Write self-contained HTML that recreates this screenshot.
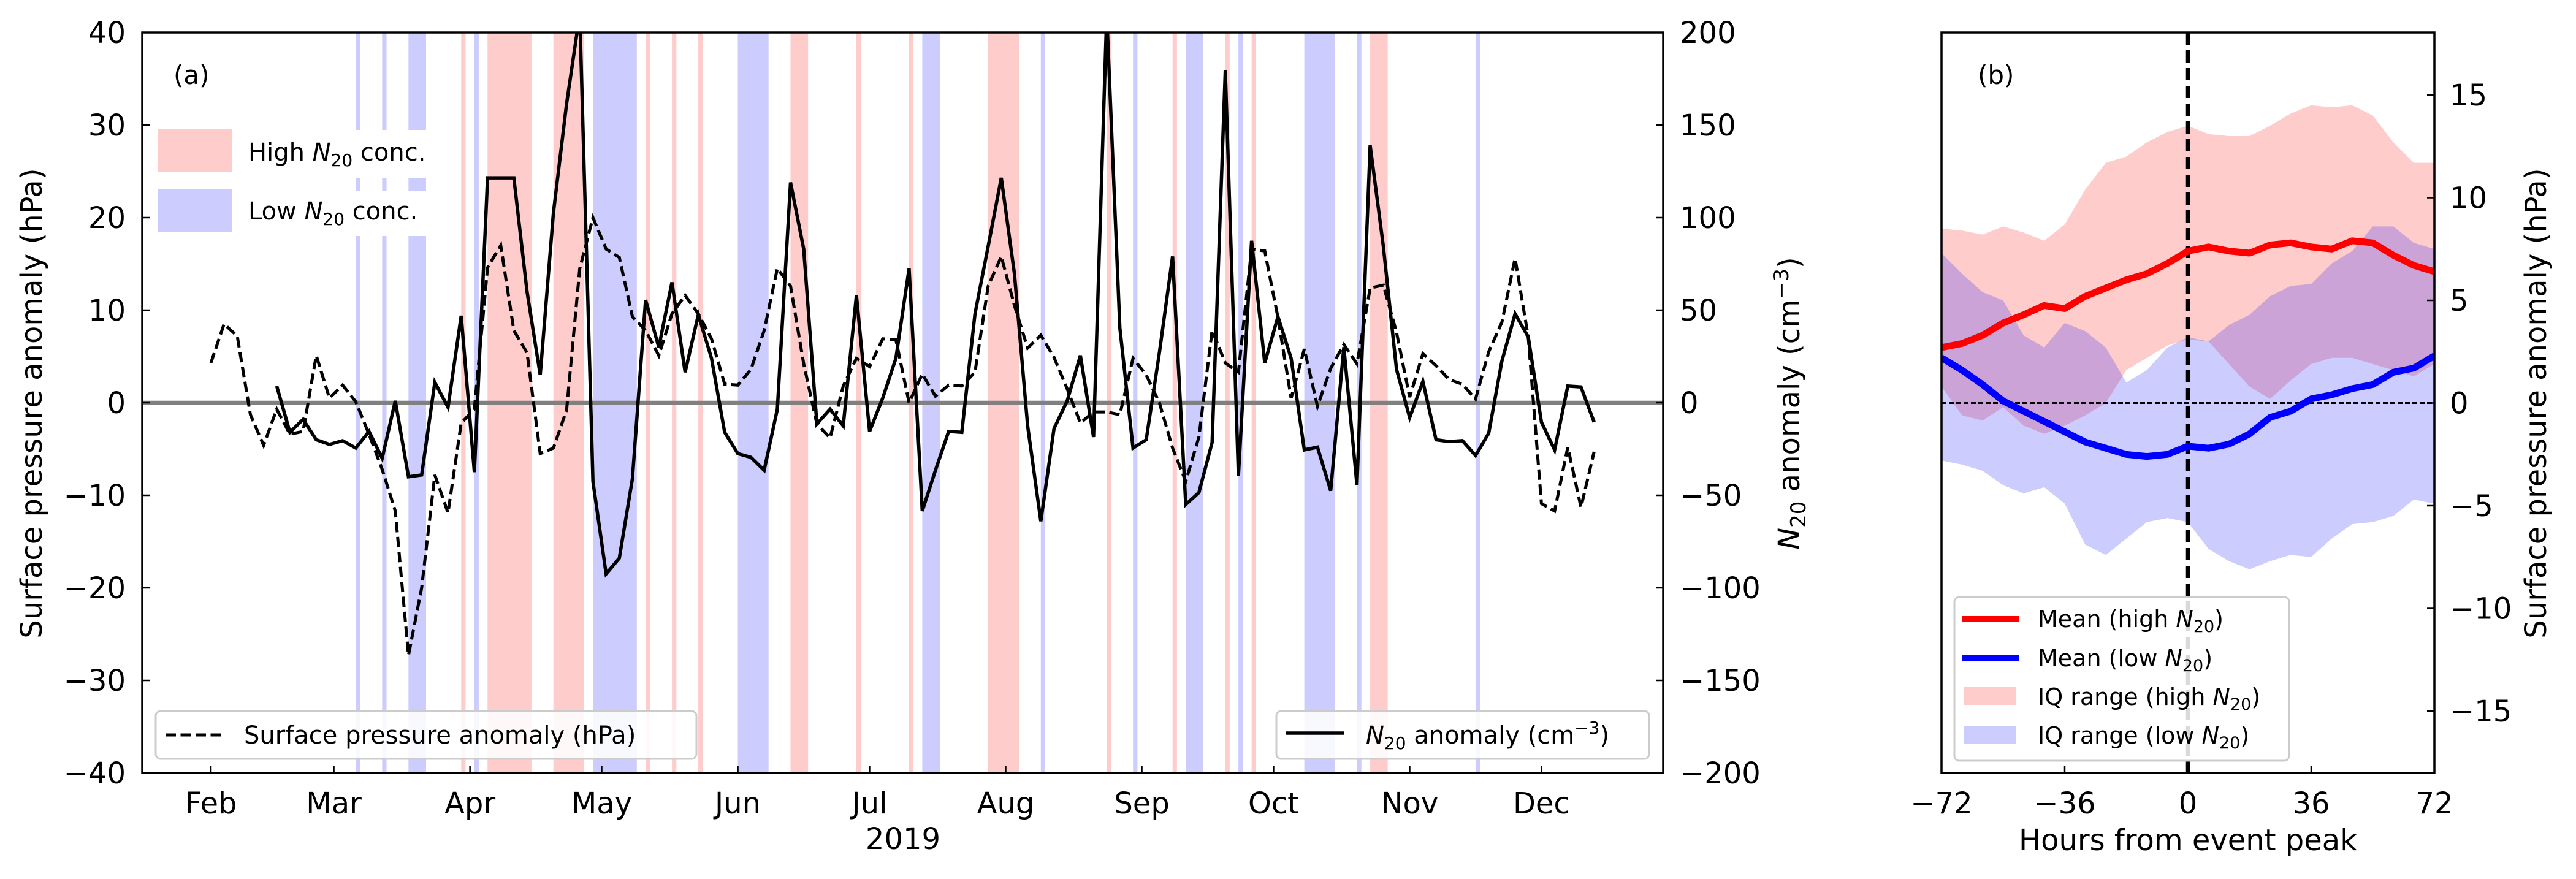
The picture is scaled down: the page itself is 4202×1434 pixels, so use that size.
<!DOCTYPE html>
<html><head><meta charset="utf-8">
<style>
html,body{margin:0;padding:0;background:#fff;}
svg{display:block;font-family:"DejaVu Sans","Liberation Sans",sans-serif;}
</style></head>
<body>
<svg id="fig" xmlns="http://www.w3.org/2000/svg" width="4202" height="1434" viewBox="0 0 4202 1434">
<defs>
<clipPath id="clipA"><rect x="232" y="53" width="2481" height="1208"/></clipPath>
<clipPath id="clipB"><rect x="3167" y="53" width="804" height="1208"/></clipPath>
</defs>
<g id="panelA"></g>
<g id="panelB"></g>
</svg>
<script>
// ===== Panel (a) data =====
const pressureStartDoy = 31; // Feb 1
const stepDays = 3;
const pressureValues = [4.3,8.5,7.2,-1.3,-4.6,-0.7,-3.4,-3.1,5.1,0.5,1.9,0.1,-3.4,-7.2,-11.7,-27.3,-20,-7.8,-11.9,-2.2,-0.7,14.6,17,7.8,5.4,-5.5,-4.9,-0.8,14.5,20,16.6,15.7,9.3,7.8,5.1,9.6,11.6,9.6,6.9,2,1.9,3.6,7.8,14.5,12.6,4.2,-2.3,-3.8,1.8,4.8,3.9,6.9,6.8,0,3.1,0.7,1.9,1.8,3.3,12.6,15.8,10.5,5.9,7.3,4.9,1.5,-2.2,-1,-1,-1.3,4.8,3,0,-4.9,-8.5,-3.7,7.8,4.3,3.3,16.6,16.4,9.2,0.5,5.8,-0.4,3.7,6.3,4.2,12.4,12.7,7.6,0.6,5.3,4,2.5,2,0.4,5.5,8.7,15.6,7.1,-10.9,-11.7,-4.8,-11.3,-5.3];
const n20StartDoy = 46;
const n20Values = [9,-16,-9,-20,-22.5,-20.5,-24.5,-15.5,-30,1,-40,-39,11,-2.5,47,-37.5,121.5,121.5,121.5,60,15,102.5,161.5,210,-42.5,-92.5,-84,-41,55.5,30,65,16.5,47.5,24,-16,-27.5,-29.5,-36.5,-3.5,119,83,-11.5,-3.5,-12.5,58,-15.5,2.5,24,72.5,-58.5,-36.5,-15.5,-16,48,84.5,121.5,69.5,-12.5,-64,-14,1,25.5,-18.5,210,40.5,-24.5,-20,27,79,-55,-48.5,-21.5,179.5,-39.5,87.5,21.5,46.5,24,-25.5,-24,-47.5,30,-44.5,139,84.5,18,-8,11.5,-20,-21,-20.5,-28.5,-16.5,22.5,48,35.5,-10.5,-25.5,9,8.5,-10.5];
const highSpans = [[88,89],[94,104],[109,116],[130,131],[136,137],[142,143],[163,167],[178,179],[190,191],[208,215],[235,236],[250,251],[262,263],[268,269],[295,299]];
const lowSpans = [[64,65],[70,71],[76,80],[91,92],[118,128],[151,158],[193,197],[220,221],[241,242],[253,257],[265,266],[280,287],[292,293],[319,320]];
const monthLabels = ["Feb","Mar","Apr","May","Jun","Jul","Aug","Sep","Oct","Nov","Dec"];
const monthDoys = [31,59,90,120,151,181,212,243,273,304,334];
const leftTicks = [40,30,20,10,0,-10,-20,-30,-40];
const rightTicks = [200,150,100,50,0,-50,-100,-150,-200];

// ===== Panel (b) data =====
const hours = [-72,-66,-60,-54,-48,-42,-36,-30,-24,-18,-12,-6,0,6,12,18,24,30,36,42,48,54,60,66,72];
const meanHigh = [2.7,2.9,3.3,3.9,4.3,4.75,4.6,5.2,5.6,6,6.3,6.8,7.4,7.6,7.4,7.3,7.7,7.8,7.6,7.5,7.9,7.8,7.2,6.7,6.4];
const meanLow = [2.2,1.6,0.9,0.1,-0.4,-0.9,-1.4,-1.9,-2.2,-2.5,-2.6,-2.5,-2.1,-2.2,-2,-1.5,-0.7,-0.4,0.2,0.4,0.7,0.9,1.5,1.7,2.3];
const iqHighTop = [8.5,8.4,8.2,8.6,8.3,7.9,8.7,10.4,11.7,12,12.7,13.2,13.5,13.1,13,13,13.5,14.1,14.5,14.4,14.5,14,12.7,11.7,11.7];
const iqHighBottom = [0.8,-0.6,-0.85,-0.2,-1.1,-1.5,-1.1,-0.6,0,1.6,2.2,2.8,3.1,3,1.9,0.8,0.2,1.1,1.9,2.2,2.2,1.9,1.6,1.3,1.9];
const iqLowTop = [7.3,6.3,5.4,5,3.3,2.7,3.9,3.5,2.7,1,1.6,2.7,3.2,3,3.8,4.3,5.2,5.7,5.8,6.8,7.4,8.6,8.6,7.8,7.5];
const iqLowBottom = [-2.8,-3,-3.3,-4,-4.4,-4.1,-4.9,-6.9,-7.4,-6.6,-5.8,-5.6,-5.8,-7.1,-7.7,-8.1,-7.7,-7.4,-7.5,-6.6,-5.9,-5.8,-5.5,-4.7,-4.9];
const hourTicks = [-72,-36,0,36,72];
const bTicks = [15,10,5,0,-5,-10,-15];

const NS = "http://www.w3.org/2000/svg";
function mk(tag, attrs, parent){const e=document.createElementNS(NS,tag);for(const k in attrs)e.setAttribute(k,attrs[k]);parent.appendChild(e);return e;}

const A = {x0:232,x1:2713,y0:53,y1:1261};
function xA(doy){return 344+(doy-31)*7.163;}
function yA(v){return A.y0+(40-v)/80*(A.y1-A.y0);}
function yN(n){return yA(n/5);}
const B = {x0:3167,x1:3971,y0:53,y1:1261};
function xB(h){return B.x0+(h+72)/144*(B.x1-B.x0);}
function yB(v){return 657.5-v*33.5;}

const pa = document.getElementById('panelA');
const pb = document.getElementById('panelB');
const FS = 48;

highSpans.forEach(s=>{
  const r=mk('rect',{x:xA(s[0]),y:A.y0,width:Math.max(xA(s[1])-xA(s[0]),7),height:A.y1-A.y0,fill:'#ffcccc'},pa);
  
  
});
lowSpans.forEach(s=>{
  const r=mk('rect',{x:xA(s[0]),y:A.y0,width:Math.max(xA(s[1])-xA(s[0]),7),height:A.y1-A.y0,fill:'#ccccff'},pa);
  
  
});
mk('rect',{x:248,y:212,width:500,height:79,fill:'#fff'},pa);
mk('rect',{x:248,y:312,width:500,height:73,fill:'#fff'},pa);
const zl=mk('line',{x1:A.x0,x2:A.x1,y1:yA(0),y2:yA(0),stroke:'#808080','stroke-width':6.5},pa);


const gL = mk('g',{'clip-path':'url(#clipA)'},pa);
let d='';
pressureValues.forEach((v,i)=>{d+=(i?'L':'M')+xA(pressureStartDoy+i*stepDays).toFixed(1)+' '+yA(v).toFixed(1);});
const pl=mk('path',{d:d,fill:'none',stroke:'#000','stroke-width':5,'stroke-dasharray':'17 7.5'},gL);


d='';
n20Values.forEach((v,i)=>{d+=(i?'L':'M')+xA(n20StartDoy+i*stepDays).toFixed(1)+' '+yN(v).toFixed(1);});
const nl=mk('path',{d:d,fill:'none',stroke:'#000','stroke-width':5.5,'stroke-linejoin':'miter'},gL);


mk('rect',{x:A.x0,y:A.y0,width:A.x1-A.x0,height:A.y1-A.y0,fill:'none',stroke:'#000','stroke-width':3.5},pa);
leftTicks.forEach(v=>{
  mk('line',{x1:A.x0,x2:A.x0+12,y1:yA(v),y2:yA(v),stroke:'#000','stroke-width':2.5},pa);
  const t=mk('text',{x:205,y:yA(v)+17,'font-size':FS,'text-anchor':'end'},pa);
  t.textContent=(v<0?'\u2212'+(-v):v);
  
  
});
rightTicks.forEach(v=>{
  mk('line',{x1:A.x1-12,x2:A.x1,y1:yN(v),y2:yN(v),stroke:'#000','stroke-width':2.5},pa);
  const t=mk('text',{x:2740,y:yN(v)+17,'font-size':FS,'text-anchor':'start'},pa);
  t.textContent=(v<0?'\u2212'+(-v):v);
  
  
});
monthLabels.forEach((m,i)=>{
  const x=xA(monthDoys[i]);
  mk('line',{x1:x,x2:x,y1:A.y1,y2:A.y1-12,stroke:'#000','stroke-width':2.5},pa);
  const t=mk('text',{x:x,y:1327,'font-size':FS,'text-anchor':'middle'},pa);
  t.textContent=m;
  
  
});
</script>
<script>
(function(){
const pa=document.getElementById('panelA');
pa.insertAdjacentHTML('beforeend',`
<text x="1473" y="1385" font-size="48" text-anchor="middle">2019</text>
<text x="283" y="137" font-size="42">(a)</text>
<text transform="translate(68,658) rotate(-90)" font-size="48" text-anchor="middle">Surface pressure anomaly (hPa)</text>
<text transform="translate(2935,658) rotate(-90)" font-size="48" text-anchor="middle"><tspan font-style="italic">N</tspan><tspan font-size="34" dy="10">20</tspan><tspan dy="-10"> anomaly (cm</tspan><tspan font-size="34" dy="-18">−3</tspan><tspan dy="18">)</tspan></text>
<rect x="257" y="210" width="122" height="71" fill="#ffcccc"/>
<text x="405" y="262" font-size="40">High <tspan font-style="italic">N</tspan><tspan font-size="28" dy="9">20</tspan><tspan dy="-9"> conc.</tspan></text>
<rect x="257" y="308" width="122" height="70" fill="#ccccff"/>
<text x="405" y="358" font-size="40">Low <tspan font-style="italic">N</tspan><tspan font-size="28" dy="9">20</tspan><tspan dy="-9"> conc.</tspan></text>
<g>
<rect x="254" y="1160" width="882" height="78" rx="8" fill="#fff" fill-opacity="0.85" stroke="#ccc" stroke-width="3"/>
<line x1="270" x2="362" y1="1199" y2="1199" stroke="#000" stroke-width="5" stroke-dasharray="17 7.5"/>
<text x="398" y="1213" font-size="40">Surface pressure anomaly (hPa)</text>
</g>
<g>
<rect x="2082" y="1160" width="608" height="78" rx="8" fill="#fff" fill-opacity="0.85" stroke="#ccc" stroke-width="3"/>
<line x1="2098" x2="2193" y1="1196" y2="1196" stroke="#000" stroke-width="5.5"/>
<text x="2228" y="1213" font-size="40"><tspan font-style="italic">N</tspan><tspan font-size="28" dy="9">20</tspan><tspan dy="-9"> anomaly (cm</tspan><tspan font-size="28" dy="-16">−3</tspan><tspan dy="16">)</tspan></text>
</g>`);
})();
</script>
<script>
(function(){
const pb=document.getElementById('panelB');
const g=mk('g',{'clip-path':'url(#clipB)'},pb);
function band(top,bot,color){
  let d='';
  hours.forEach((h,i)=>{d+=(i?'L':'M')+xB(h).toFixed(1)+' '+yB(top[i]).toFixed(1);});
  for(let i=hours.length-1;i>=0;i--){d+='L'+xB(hours[i]).toFixed(1)+' '+yB(bot[i]).toFixed(1);}
  d+='Z';
  return mk('path',{d:d,fill:color,'fill-opacity':0.2,stroke:'none'},g);
}
const bh=band(iqHighTop,iqHighBottom,'#ff0000');


const bl=band(iqLowTop,iqLowBottom,'#0000ff');


mk('line',{x1:B.x0,x2:B.x1,y1:yB(0),y2:yB(0),stroke:'#000','stroke-width':3,'stroke-dasharray':'8 4'},g);
mk('line',{x1:xB(0),x2:xB(0),y1:B.y0,y2:B.y1,stroke:'#000','stroke-width':6.5,'stroke-dasharray':'20 9'},g);
function line(vals,color){
  let d='';
  hours.forEach((h,i)=>{d+=(i?'L':'M')+xB(h).toFixed(1)+' '+yB(vals[i]).toFixed(1);});
  return mk('path',{d:d,fill:'none',stroke:color,'stroke-width':11,'stroke-linejoin':'round'},g);
}
const mh=line(meanHigh,'#ff0000');


const ml=line(meanLow,'#0000ff');


mk('rect',{x:B.x0,y:B.y0,width:B.x1-B.x0,height:B.y1-B.y0,fill:'none',stroke:'#000','stroke-width':3.5},pb);
hourTicks.forEach(h=>{
  const x=xB(h);
  mk('line',{x1:x,x2:x,y1:B.y1,y2:B.y1-12,stroke:'#000','stroke-width':2.5},pb);
  const t=mk('text',{x:x,y:1327,'font-size':48,'text-anchor':'middle'},pb);
  t.textContent=(h<0?'\u2212'+(-h):h);
  
  
});
bTicks.forEach(v=>{
  mk('line',{x1:B.x1-12,x2:B.x1,y1:yB(v),y2:yB(v),stroke:'#000','stroke-width':2.5},pb);
  const t=mk('text',{x:3996,y:yB(v)+17,'font-size':48,'text-anchor':'start'},pb);
  t.textContent=(v<0?'\u2212'+(-v):v);
  
  
});
pb.insertAdjacentHTML('beforeend',`
<text x="3569" y="1387" font-size="48" text-anchor="middle">Hours from event peak</text>
<text x="3226" y="137" font-size="42">(b)</text>
<text transform="translate(4153,658) rotate(-90)" font-size="48" text-anchor="middle">Surface pressure anomaly (hPa)</text>
<g>
<rect x="3188" y="974" width="546" height="267" rx="8" fill="#fff" fill-opacity="0.85" stroke="#ccc" stroke-width="3"/>
<line x1="3200" x2="3293" y1="1010" y2="1010" stroke="#ff0000" stroke-width="10"/>
<text x="3324" y="1023" font-size="38">Mean (high <tspan font-style="italic">N</tspan><tspan font-size="27" dy="8">20</tspan><tspan dy="-8">)</tspan></text>
<line x1="3200" x2="3293" y1="1073" y2="1073" stroke="#0000ff" stroke-width="10"/>
<text x="3324" y="1087" font-size="38">Mean (low <tspan font-style="italic">N</tspan><tspan font-size="27" dy="8">20</tspan><tspan dy="-8">)</tspan></text>
<rect x="3204" y="1121" width="84" height="29" fill="#ffcccc"/>
<text x="3324" y="1150" font-size="38">IQ range (high <tspan font-style="italic">N</tspan><tspan font-size="27" dy="8">20</tspan><tspan dy="-8">)</tspan></text>
<rect x="3204" y="1185" width="84" height="29" fill="#ccccff"/>
<text x="3324" y="1213" font-size="38">IQ range (low <tspan font-style="italic">N</tspan><tspan font-size="27" dy="8">20</tspan><tspan dy="-8">)</tspan></text>
</g>`);
})();
</script>
</body></html>
